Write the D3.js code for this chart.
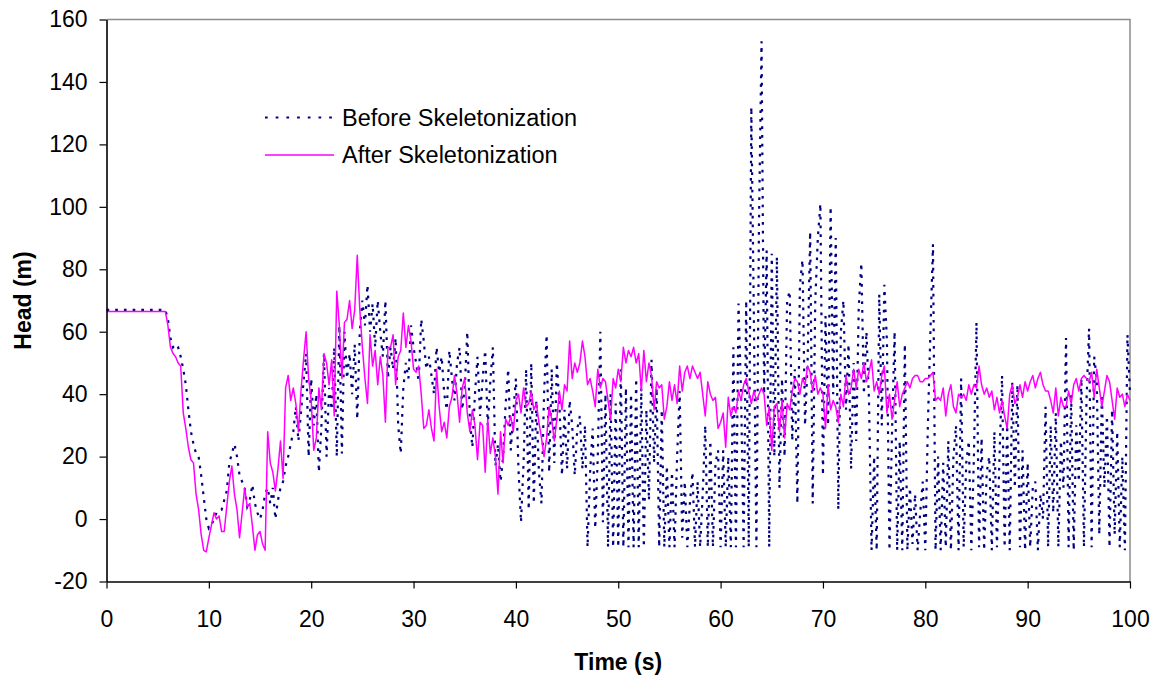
<!DOCTYPE html>
<html>
<head>
<meta charset="utf-8">
<script src="https://cdn.jsdelivr.net/npm/d3@7"></script>
<style>
  body { margin: 0; background: #fff; }
  svg { display: block; font-family: "Liberation Sans", Arial, sans-serif; }
</style>
</head>
<body>
<div id="graphic"></div>
<script>
'use strict';

// samples every 0.25 s from 0 to 100 s
const timeStep = 0.25;

const seriesNames = [`Before Skeletonization`, `After Skeletonization`];

const beforeHead = [
  67, 67, 67, 67, 67, 67, 67, 67, 67, 67, 67, 67, 67, 67, 67, 67, 67, 67, 67, 67,
  67, 67, 67, 67, 64, 58, 55, 56, 55, 52, 48, 43, 35, 28, 24, 21, 20, 14, 7, 0,
  -3, -2, 0, 2, 3, 3, 6, 9, 18, 21, 24, 20, 14, 12, 10, 4, 6, 11, 5, 2,
  0, 3, 8, 10, 5, 10, 0, 6, 10, 12, 17, 20, 24, 28, 36, 25, 34, 44, 53, 20,
  45, 30, 40, 15, 30, 53, 20, 42, 35, 55, 20, 62, 21, 60, 45, 53, 40, 56, 32, 60,
  70, 62, 75, 60, 69, 55, 70, 60, 52, 70, 45, 55, 48, 58, 30, 21, 42, 50, 45, 62,
  55, 50, 44, 64, 57, 48, 52, 46, 40, 55, 47, 52, 40, 35, 54, 45, 38, 50, 55, 35,
  42, 60, 32, 23, 40, 52, 33, 45, 54, 30, 44, 55, 17, 24, 12, 20, 37, 48, 22, 34,
  45, 16, -1, 18, 48, 3, 50, 5, 38, 15, 5, 40, 59, 15, 48, 18, 50, 37, 14, 35,
  16, 38, 30, 14, 29, 33, 16, 30, -9, 15, 29, -3, 20, 60, -1, 40, -9, 40, -9, 37,
  -9, 48, -9, 42, -9, 40, -9, 45, -9, 42, -9, 35, 6, 51, 18, 42, -9, 35, -9, 17,
  -9, 15, -9, 20, 41, -6, 12, -9, 5, 15, -9, 12, -9, 8, 30, -9, 25, -9, 18, 22,
  -9, 22, -9, 20, -9, 55, -9, 69, 40, -9, 70, -9, 132, 65, -9, 95, 153, 40, 86, -9,
  85, 20, 84, 10, 45, 20, 70, 73, 25, 48, 5, 75, 83, 30, 50, 92, 5, 70, 90, 101,
  14, 65, 30, 100, 40, 90, 3, 60, 70, 35, 56, 16, 50, 25, 68, 82, 40, 60, 38, -10,
  20, -10, 72, 30, 75, 57, -10, 28, 60, -10, 25, -10, 56, -10, 10, -8, 8, -10, 2, 12,
  -10, 30, 60, 88, -10, 20, -10, 18, -9, 25, -10, 20, 30, -10, 45, -9, 18, 25, -10, 20,
  63, -9, 26, -10, 15, 20, -10, 28, -9, 20, 46, -9, 30, -10, 44, 10, 43, -9, 22, -10,
  18, -9, 10, 12, -10, 8, 0, 36, -9, 30, 2, 34, -9, 25, 10, 58, -9, 40, -10, 30,
  12, 45, -9, 38, 61, -9, 52, 45, -5, 40, 10, 33, -9, 35, -5, 28, -9, 20, -10, 59,
  40
];

const afterHead = [
  66.5, 66.5, 66.5, 66.5, 66.5, 66.5, 66.5, 66.5, 66.5, 66.5, 66.5, 66.5, 66.5, 66.5, 66.5, 66.5, 66.5, 66.5, 66.5, 66.5,
  66.5, 66.5, 66.5, 66.5, 62, 55, 53, 52, 50, 49, 34, 29, 23, 19, 18, 8, 3, -5, -10, -10.5,
  -6, -2, 2, 0, 1, -4, -4, 4, 12, 17, 8, 3, -6, 2, 10, 4, 5, -2, -10, -5,
  -4, -8, -10, 28, 18, 15, 9, 16, 25, 13, 42, 46, 38, 42, 37, 28, 41, 51, 60, 45,
  38, 22, 26, 42, 35, 53, 50, 43, 51, 33, 73, 62, 45, 63, 64, 70, 61, 67, 84.5, 67,
  55, 45, 37, 59, 49, 54, 43, 52, 46, 31, 55, 55, 59, 43, 52, 54, 66, 55, 62, 57,
  48, 47, 49, 40, 29, 30, 35, 29, 25, 48, 36, 28, 31, 26, 36, 39, 46, 40, 31, 42,
  45, 34, 28, 35, 30, 19, 31, 30, 15, 32, 21, 26, 20, 8, 28, 18, 32, 30, 33, 28,
  38, 40, 34, 42, 36, 37, 41, 35, 37, 31, 26, 20, 26, 36, 32, 25, 32, 41, 35, 43,
  41, 57, 45, 50, 47, 50, 57, 52, 43, 45, 41, 36, 48, 42, 45, 44, 38, 32, 45, 42,
  48, 44, 55, 50, 54, 52, 55, 50, 53, 41, 54, 44, 50, 46, 35, 44, 42, 43, 32, 36,
  44, 38, 43, 37, 49, 41, 47, 49, 45, 49, 47, 45, 47, 40, 33, 44, 40, 38, 39, 29,
  31, 34, 23, 39, 33, 36, 34, 41, 38, 43, 45, 41, 37, 41, 38, 40, 42, 40, 30, 36,
  22, 36, 37, 28, 38, 26, 37, 35, 41, 45, 44, 40, 45, 43, 49, 47, 41, 46, 40, 42,
  40, 29, 43, 35, 38, 36, 31, 40, 36, 46, 40, 42, 48, 42, 48, 45, 50, 44, 47, 51,
  41, 44, 40, 46, 49, 34, 40, 32, 38, 44, 36, 40, 42, 44, 42, 45, 46, 46, 44, 44,
  45, 45, 46, 47, 38, 39, 38, 42, 33, 40, 43, 36, 34, 40, 39, 40, 38, 43, 40, 43,
  42, 49, 43, 40, 42, 39, 41, 35, 39, 34, 38, 33, 29, 40, 43, 37, 39, 43, 39, 44,
  41, 44, 46, 42, 45, 47, 43, 41, 41, 38, 34, 42, 33, 39, 36, 36, 41, 37, 43, 45,
  41, 45, 46, 45, 44, 47, 39, 48, 42, 36, 41, 46, 44, 38, 32, 42, 39, 40, 36, 40,
  38
];

const xTicks = [0, 10, 20, 30, 40, 50, 60, 70, 80, 90, 100];
const yTicks = [-20, 0, 20, 40, 60, 80, 100, 120, 140, 160];

(function (d3) {
  const width = 1161;
  const height = 678;
  const margin = { top: 19.5, right: 31, bottom: 96.5, left: 106.5 };
  const fontSize = 23;

  const x = d3.scaleLinear().domain([0, 100]).range([margin.left, width - margin.right]);
  const y = d3.scaleLinear().domain([-20, 160]).range([height - margin.bottom, margin.top]);

  const svg = d3
    .select(`div#graphic`)
    .append(`svg`)
    .attr(`width`, width)
    .attr(`height`, height)
    .attr(`viewBox`, [0, 0, width, height]);

  // plot frame (grey top / right edges)
  svg
    .append(`path`)
    .attr(`fill`, `none`)
    .attr(`stroke`, `#8c8c8c`)
    .attr(`stroke-width`, 1.5)
    .attr(`d`, `M${x(0)},${y(160)}H${x(100)}V${y(-20)}`);

  const line = d3
    .line()
    .x((d, i) => x(i * timeStep))
    .y((d) => y(d));

  // Before skeletonization (dotted navy)
  svg
    .append(`path`)
    .datum(beforeHead)
    .attr(`fill`, `none`)
    .attr(`stroke`, `#000080`)
    .attr(`stroke-width`, 2.2)
    .attr(`stroke-dasharray`, `2.7,6`)
    .attr(`d`, line);

  // After skeletonization (magenta)
  svg
    .append(`path`)
    .datum(afterHead)
    .attr(`fill`, `none`)
    .attr(`stroke`, `#ff00ff`)
    .attr(`stroke-width`, 1.5)
    .attr(`stroke-linejoin`, `round`)
    .attr(`d`, line);

  // Axes (plain hyphen for negatives, like the original)
  const plain = (d) => `${d}`;
  const xAxis = svg
    .append(`g`)
    .attr(`transform`, `translate(0,${y(-20)})`)
    .call(d3.axisBottom(x).tickValues(xTicks).tickFormat(plain).tickSize(7).tickSizeOuter(0).tickPadding(22));
  const yAxis = svg
    .append(`g`)
    .attr(`transform`, `translate(${x(0)},0)`)
    .call(d3.axisLeft(y).tickValues(yTicks).tickFormat(plain).tickSize(7).tickSizeOuter(0).tickPadding(12));

  [xAxis, yAxis].forEach((g) => {
    g.select(`.domain`).attr(`stroke`, `#000`).attr(`stroke-width`, 1.6);
    g.selectAll(`.tick line`).attr(`stroke`, `#000`).attr(`stroke-width`, 1.2);
    g.selectAll(`.tick text`)
      .attr(`fill`, `#000`)
      .attr(`font-size`, fontSize)
      .attr(`font-family`, `"Liberation Sans", Arial, sans-serif`);
  });

  // Axis titles
  svg
    .append(`text`)
    .attr(`x`, x(50))
    .attr(`y`, 670)
    .attr(`text-anchor`, `middle`)
    .attr(`font-size`, fontSize)
    .attr(`font-weight`, `bold`)
    .text(`Time (s)`);

  svg
    .append(`text`)
    .attr(`transform`, `translate(31,${y(70)}) rotate(-90)`)
    .attr(`text-anchor`, `middle`)
    .attr(`font-size`, fontSize)
    .attr(`font-weight`, `bold`)
    .text(`Head (m)`);

  // Legend
  const legend = svg.append(`g`).attr(`font-size`, fontSize + 0.5);
  const legendStyles = [
    { stroke: `#000080`, width: 2.2, dash: `2.7,8` },
    { stroke: `#ff00ff`, width: 1.5, dash: null }
  ];
  seriesNames.forEach((name, i) => {
    const ly = 117.5 + i * 37.5;
    legend
      .append(`line`)
      .attr(`x1`, 265)
      .attr(`x2`, 334)
      .attr(`y1`, ly)
      .attr(`y2`, ly)
      .attr(`stroke`, legendStyles[i].stroke)
      .attr(`stroke-width`, legendStyles[i].width)
      .attr(`stroke-dasharray`, legendStyles[i].dash);
    legend
      .append(`text`)
      .attr(`x`, 342)
      .attr(`y`, ly + 8.3)
      .attr(`fill`, `#000`)
      .text(name);
  });
})(d3);
</script>
</body>
</html>
